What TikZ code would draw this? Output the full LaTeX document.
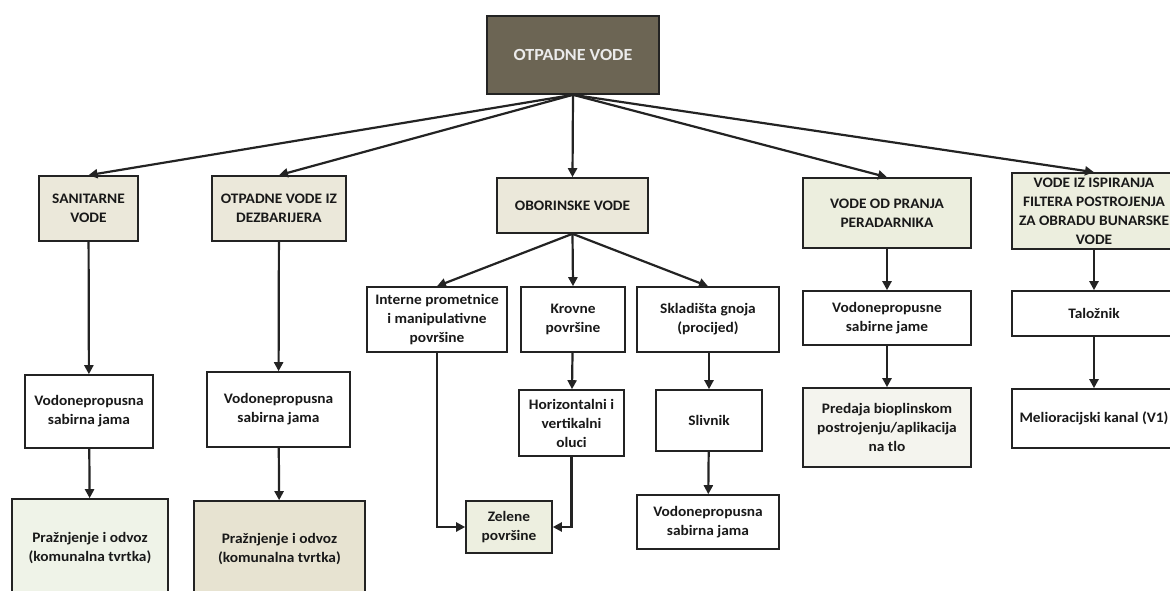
\documentclass[tikz,border=0pt]{standalone}
\usepackage{fontspec}
\setmainfont{Carlito}[FakeStretch=1.06]
\usetikzlibrary{arrows.meta}
\definecolor{topfill}{RGB}{108,101,84}
\definecolor{beige}{RGB}{235,232,218}
\definecolor{greenbeige}{RGB}{236,238,222}
\definecolor{lightgreen}{RGB}{239,243,232}
\definecolor{beige2}{RGB}{231,227,209}
\definecolor{zelfill}{RGB}{237,239,224}
\definecolor{predfill}{RGB}{244,244,238}
\definecolor{edge}{RGB}{35,35,35}
\begin{document}
\begin{tikzpicture}[x=1pt,y=-1pt,
  box/.style={draw=edge, line width=1.6pt, inner sep=0pt, align=center,
    font=\bfseries\fontsize{14.5}{19}\selectfont, text=black!90},
  arr/.style={draw=edge, line width=2.2pt, -{Triangle[length=9pt,width=9pt]}}]
\useasboundingbox (0,0) rectangle (1170,591);
\node[box, fill=topfill, text=white!92!black, font=\bfseries\fontsize{17}{20}\selectfont, minimum width=172pt, minimum height=78pt] (top) at (573,55) {OTPADNE VODE};
\node[box, fill=beige, minimum width=99pt, minimum height=65pt] (san) at (88.5,208.5) {SANITARNE\\VODE};
\node[box, fill=beige, minimum width=134pt, minimum height=65pt] (dez) at (279,208.5) {OTPADNE VODE IZ\\DEZBARIJERA};
\node[box, fill=beige, minimum width=151pt, minimum height=55pt] (obo) at (572.5,205.5) {OBORINSKE VODE};
\node[box, fill=greenbeige, minimum width=168pt, minimum height=70pt] (pra) at (887,213) {VODE OD PRANJA\\PERADARNIKA};
\node[box, fill=greenbeige, minimum width=164pt, minimum height=76pt] (isp) at (1094,211) {VODE IZ ISPIRANJA\\FILTERA POSTROJENJA\\ZA OBRADU BUNARSKE\\VODE};
\node[box, fill=white, minimum width=128pt, minimum height=73pt] (vod1) at (89,411.5) {Vodonepropusna\\sabirna jama};
\node[box, fill=white, minimum width=143pt, minimum height=75pt] (vod2) at (278.5,409.5) {Vodonepropusna\\sabirna jama};
\node[box, fill=lightgreen, minimum width=156pt, minimum height=98pt] (prz1) at (90,548) {Pražnjenje i odvoz\\(komunalna tvrtka)};
\node[box, fill=beige2, minimum width=171pt, minimum height=96pt] (prz2) at (279.5,549) {Pražnjenje i odvoz\\(komunalna tvrtka)};
\node[box, fill=white, minimum width=140pt, minimum height=65pt] (int) at (437,319.5) {Interne prometnice\\i manipulativne\\površine};
\node[box, fill=white, minimum width=104pt, minimum height=65pt] (kro) at (573,319.5) {Krovne\\površine};
\node[box, fill=white, minimum width=142pt, minimum height=65pt] (skl) at (708,319.5) {Skladišta gnoja\\(procijed)};
\node[box, fill=white, minimum width=105pt, minimum height=66pt] (hor) at (571.5,423) {Horizontalni i\\vertikalni\\oluci};
\node[box, fill=white, minimum width=106pt, minimum height=61pt] (sli) at (709,420.5) {Slivnik};
\node[box, fill=zelfill, minimum width=86pt, minimum height=52pt] (zel) at (509,527) {Zelene\\površine};
\node[box, fill=white, minimum width=142pt, minimum height=54pt] (vod3) at (708,522) {Vodonepropusna\\sabirna jama};
\node[box, fill=white, minimum width=168pt, minimum height=54pt] (vodp) at (887,318) {Vodonepropusne\\sabirne jame};
\node[box, fill=white, minimum width=164pt, minimum height=45pt] (tal) at (1094,313.5) {Taložnik};
\node[box, fill=predfill, minimum width=168pt, minimum height=79pt] (pred) at (887,427.5) {Predaja bioplinskom\\postrojenju/aplikacija\\na tlo};
\node[box, fill=white, minimum width=164pt, minimum height=59pt] (mel) at (1094,418.5) {Melioracijski kanal (V1)};
\foreach \t in {san,dez,obo,pra,isp} \draw[arr] (top.south) -- (\t.north);
\foreach \t in {int,kro,skl} \draw[arr] (obo.south) -- (\t.north);
\draw[arr] (san) -- (vod1);
\draw[arr] (vod1) -- (prz1);
\draw[arr] (dez) -- (vod2);
\draw[arr] (vod2) -- (prz2);
\draw[arr] (kro) -- (hor);
\draw[arr] (skl.south -| sli.north) -- (sli.north);
\draw[arr] (sli) -- (vod3);
\draw[arr] (int.south) |- (zel.west);
\draw[arr] (hor.south) |- (zel.east);
\draw[arr] (pra) -- (vodp);
\draw[arr] (vodp) -- (pred);
\draw[arr] (isp) -- (tal);
\draw[arr] (tal) -- (mel);
\end{tikzpicture}
\end{document}
